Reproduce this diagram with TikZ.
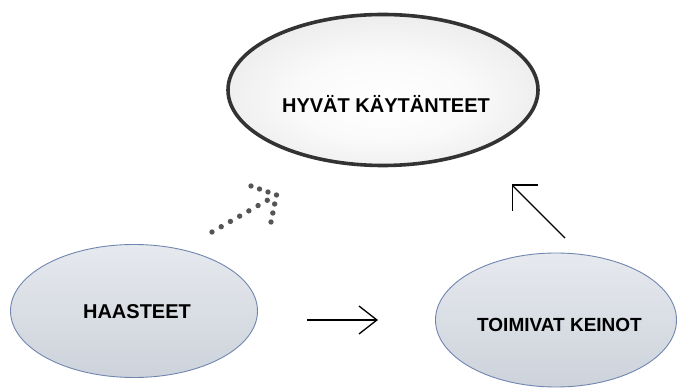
\documentclass[tikz,border=0pt]{standalone}
\usepackage{fontspec}
\setmainfont{Liberation Sans}
\usetikzlibrary{shapes.geometric,arrows.meta,calc}

\definecolor{rimdark}{HTML}{333333}
\definecolor{rimblue}{HTML}{7086B0}
\definecolor{fillgray}{HTML}{C6C6C6}
\definecolor{blueTop}{HTML}{E6E9EE}
\definecolor{blueBot}{HTML}{CDD3DB}
\definecolor{dotgray}{HTML}{555555}

% soft glow: white in the middle, light grey only towards the rim
\pgfdeclareradialshading{softglow}{\pgfpoint{0bp}{-4bp}}{%
  color(0bp)=(white); color(14bp)=(white!98!black);
  color(34bp)=(white!90!black); color(50bp)=(fillgray)}

\tikzset{
  goalell/.style={ellipse, inner sep=0pt, draw=rimdark, line width=3.6pt,
    shading=softglow, minimum width=310pt, minimum height=151pt},
  stepell/.style={ellipse, inner sep=0pt, draw=rimblue, line width=0.9pt,
    top color=blueTop, bottom color=blueBot},
  lbl/.style={anchor=base, font=\bfseries\fontsize{20}{24}\selectfont, text=black, inner sep=0pt},
  flow/.style={line width=1.3pt, -{Straight Barb[length=18pt,width=28pt,line width=1.3pt]}},
  dotfill/.style={fill=dotgray}
}

\begin{document}
\begin{tikzpicture}[x=1pt,y=1pt]
  \useasboundingbox (0,0) rectangle (678,391);

  % the three ellipses
  \node[goalell] (goal) at (383,301) {};
  \node[stepell, minimum width=247pt, minimum height=133pt] (haas) at (134,80) {};
  \node[stepell, minimum width=241pt, minimum height=134pt] (keino) at (556,71) {};

  % their labels
  \node[lbl] (goaltxt)  at (386,278) {HYVÄT KÄYTÄNTEET};
  \node[lbl] (haastxt)  at (137,72)  {HAASTEET};
  \node[lbl, font=\bfseries\fontsize{19}{24}\selectfont] (keinotxt) at (559.5,59) {TOIMIVAT KEINOT};

  % solid arrows
  \coordinate (hstart) at (307,71);
  \coordinate (hend)   at (378,71);
  \draw[flow] (hstart) -- (hend);

  \coordinate (ustart) at (565,153);
  \coordinate (uend)   at (511.5,206.5);
  \draw[flow, -{Straight Barb[length=18pt,width=36pt,line width=1.3pt]}] (ustart) -- (uend);

  % dotted arrow from the challenges towards the goal
  \coordinate (dtail) at (212,159);
  \coordinate (dtip)  at (276.5,196);
  \coordinate (dbarbA) at (251,205);
  \coordinate (dbarbB) at (271,169);
  \foreach \i in {0,...,7}
    \fill[dotfill] ($(dtail)!\i/7!(dtip)$) circle (2.7pt);
  \foreach \i in {0,...,2}
    \fill[dotfill] ($(dbarbA)!\i/3!(dtip)$) circle (2.7pt);
  \foreach \i in {1,...,3}
    \fill[dotfill] ($(dtip)!\i/3!(dbarbB)$) circle (2.7pt);
\end{tikzpicture}
\end{document}
